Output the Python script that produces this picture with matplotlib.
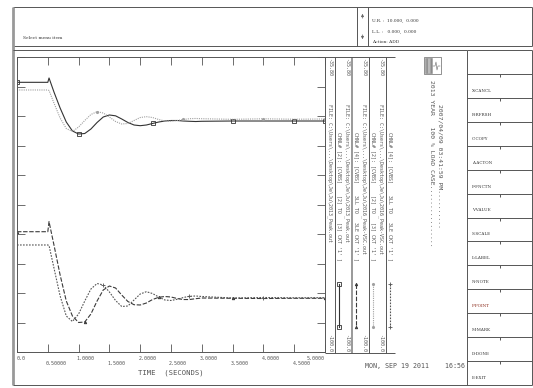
import numpy as np
import matplotlib
matplotlib.use("Agg")
import matplotlib.pyplot as plt

# Channel data (time in seconds, angle values)
time = [0, 0.5, 0.52, 0.6, 0.7, 0.8, 0.9, 1.0, 1.1, 1.2, 1.3, 1.4, 1.5, 1.6, 1.7, 1.8,
        1.9, 2.0, 2.1, 2.2, 2.3, 2.4, 2.5, 2.6, 2.7, 2.8, 2.9, 3.0, 3.5, 4.0, 4.5, 5.0]
ch_2013_a = [-41.31, -41.31, -40.37, -43.42, -46.90, -49.95, -51.90, -52.56, -52.45, -51.47,
             -50.05, -48.86, -48.42, -48.60, -49.29, -50.05, -50.60, -50.75, -50.60, -50.27,
             -49.95, -49.73, -49.62, -49.62, -49.73, -49.79, -49.84, -49.79, -49.73, -49.73,
             -49.73, -49.73]
ch_2013_b = [-73.82, -73.82, -71.64, -76.71, -83.24, -88.90, -92.17, -93.58, -93.47, -91.73,
             -88.90, -86.51, -85.64, -86.07, -87.60, -89.01, -89.71, -89.77, -89.34, -88.58,
             -88.10, -87.92, -88.03, -88.36, -88.58, -88.58, -88.40, -88.25, -88.31, -88.36,
             -88.31, -88.31]
ch_2016_a = [-42.98, -42.98, -43.09, -45.81, -49.08, -51.36, -52.01, -51.03, -49.62, -48.31,
             -47.70, -47.99, -48.86, -49.84, -50.38, -50.27, -49.62, -48.97, -48.79, -48.97,
             -49.40, -49.73, -49.77, -49.62, -49.40, -49.23, -49.18, -49.23, -49.36, -49.25,
             -49.34, -49.29]
ch_2016_b = [-76.71, -76.71, -76.82, -81.72, -87.81, -92.17, -93.36, -91.73, -88.90, -86.29,
             -85.09, -85.42, -86.94, -88.79, -90.10, -89.99, -88.68, -87.38, -86.88, -87.27,
             -88.03, -88.68, -88.79, -88.53, -88.14, -87.88, -87.81, -87.92, -88.25, -88.14,
             -88.21, -88.18]

y_min, y_max = -100.0, -35.80
x_ticks = [0, 0.5, 1.0, 1.5, 2.0, 2.5, 3.0, 3.5, 4.0, 4.5, 5.0]
x_labels = ["0.0", "0.50000", "1.0000", "1.5000", "2.0000", "2.5000",
            "3.0000", "3.5000", "4.0000", "4.5000", "5.0000"]

# legend strips
strip_top = ["-35.80", "-35.80", "-35.80", "-35.80"]
strip_bottom = ["-100.0", "-100.0", "-100.0", "-100.0"]
strip_files = [r"FILE: C:\Users\...\Desktop\Je\Ju\2013_Peak.out",
               r"FILE: C:\Users\...\Desktop\Je\Ju\2013_Peak.out",
               r"FILE: C:\Users\...\Desktop\Je\Ju\2016_Peak-VSC.out",
               r"FILE: C:\Users\...\Desktop\Je\Ju\2016_Peak-VSC.out"]
strip_chnl = ["CHNL# [2]: [CVBS]    [2] TO   [3] CKT '1' ]",
              "CHNL# [4]: [CVBS]    3LL TO   3LE CKT '1' ]",
              "CHNL# [2]: [CVBS]    [2] TO   [3] CKT '1' ]",
              "CHNL# [4]: [CVBS]    3LL TO   3LE CKT '1' ]"]

menu_items = ["X-CANCL", "R-RFRSH", "C-COPY", "A-ACTON", "F-FNCTN", "V-VALUE", "S-SCALE",
              "L-LABEL", "N-NOTE", "P-POINT", "M-MARK", "D-DONE", "E-EXIT"]

case_title = "2013 YEAR   100 % LOAD CASE................"
case_date = "2007/04/09 03:41:59 PM.........."
stamp = "MON, SEP 19 2011    16:56"

# line styles, same order as the strips
series = [ch_2013_a, ch_2013_b, ch_2016_a, ch_2016_b]
styles = [
    dict(color="#333333", lw=0.8, ls="-", marker="s", ms=2.2, mfc="none", mew=0.6),
    dict(color="#3a3a3a", lw=0.8, ls=(0, (4, 1.5)), marker="^", ms=1.8, mew=0.6),
    dict(color="#a0a0a0", lw=0.8, ls=(0, (1, 1)), marker=".", ms=2.5),
    dict(color="#555555", lw=0.8, ls=(0, (1.5, 1.2)), marker="+", ms=2.5, mew=0.6),
]
mark_at = [[0, 7, 19, 28, 30, 31], [0, 8, 20, 28, 31], [10, 24, 29, 31], [11, 25, 29, 31]]

W, H = 533, 388
fig = plt.figure(figsize=(W / 100, H / 100), dpi=100)
fig.patch.set_facecolor("white")
mono = "DejaVu Sans Mono"
ink = "#333333"
soft = "#555555"

# overlay in pixel coordinates for the screen frame
ov = fig.add_axes([0, 0, 1, 1])
ov.set_xlim(0, W)
ov.set_ylim(H, 0)
ov.axis("off")


def line(x0, y0, x1, y1, c="#555555", lw=0.7):
    ov.plot([x0, x1], [y0, y1], color=c, lw=lw, solid_capstyle="butt")


# header box
line(13, 7, 532, 7)
line(13, 46, 532, 46)
line(532, 7, 532, 46)
line(357, 7, 357, 46)
line(368, 7, 368, 46)
ov.annotate("", xy=(362.5, 11), xytext=(362.5, 21),
            arrowprops=dict(arrowstyle="-|>", lw=0.5, color="#666666", mutation_scale=4))
ov.annotate("", xy=(362.5, 42), xytext=(362.5, 32),
            arrowprops=dict(arrowstyle="-|>", lw=0.5, color="#666666", mutation_scale=4))
ov.text(23, 38, "Select menu item", fontsize=3.2, family="DejaVu Serif", color=ink, va="center")
ov.text(372, 20, "U.R. :  10.000,  0.000", fontsize=3.2, family="DejaVu Serif", color=ink, va="center")
ov.text(372, 31, "L.L. :   0.000,  0.000", fontsize=3.2, family="DejaVu Serif", color=ink, va="center")
ov.text(372, 42, "Action: ADD", fontsize=3.2, family="DejaVu Serif", color=ink, va="center")

# main box with gray left border
line(13, 7, 13, 385, c="#999999", lw=2.0)
line(13, 50, 467, 50)
line(13, 385, 532, 385)
line(467, 50, 467, 385)
line(467, 50, 532, 50)
line(532, 50, 532, 385)

# menu column
row_h = (385 - 50) / 14
for i, item in enumerate(menu_items):
    top = 50 + row_h * (i + 1)
    line(467, top, 532, top)
    line(500, top, 500, top + 3)
    ov.text(472, top + row_h - 7, item, fontsize=3.0, family="DejaVu Serif",
            color="#8b2a1a" if item == "P-POINT" else ink, va="center")

# legend strips
for i in range(4):
    x0 = 325 + 17 * i
    line(x0 + 10, 57, x0 + 10, 353, c="#999999" if i == 1 else "#555555", lw=1.4 if i == 1 else 0.7)
    ov.text(x0 + 5, 58, strip_top[i], rotation=-90, fontsize=3.6, family=mono,
            color=soft, ha="center", va="top")
    ov.text(x0 + 5, 104, strip_files[i], rotation=-90, fontsize=3.6, family=mono,
            color=soft, ha="center", va="top")
    ov.text(x0 + 5, 352, strip_bottom[i], rotation=-90, fontsize=3.6, family=mono,
            color=soft, ha="center", va="bottom")
    ov.text(x0 + 14, 132, strip_chnl[i], rotation=-90, fontsize=3.6, family=mono,
            color=soft, ha="center", va="top")
    ov.plot([x0 + 14, x0 + 14], [284, 327], markevery=[0, 1], **styles[i])
line(325, 57, 395, 57)
line(325, 353, 395, 353)

# case description block
ov.add_patch(plt.Rectangle((424, 57), 17, 17, fill=False, ec="#666666", lw=0.5))
ov.add_patch(plt.Rectangle((425, 58), 7, 15, fc="#bbbbbb", ec="#888888", lw=0.4, hatch="||||"))
ov.plot([433, 435, 436, 437, 438, 440], [66, 66, 62, 70, 66, 66], color="#666666", lw=0.4)
ov.text(432, 80, case_title, rotation=-90, fontsize=4.6, family=mono, color=soft,
        ha="center", va="top")
ov.text(440, 104, case_date, rotation=-90, fontsize=4.6, family=mono, color=soft,
        ha="center", va="top")
ov.text(365, 366, stamp, fontsize=4.8, family=mono, color=soft, va="center")

# the plot itself
ax = fig.add_axes([17 / W, 1 - 352 / H, (325 - 17) / W, (352 - 57) / H])
for s, st, me in zip(series, styles, mark_at):
    ax.plot(time, s, markevery=me, **st)
ax.set_xlim(0, 5)
ax.set_ylim(y_min, y_max)
ax.set_xticks(x_ticks)
ax.set_yticks(np.linspace(y_min, y_max, 11))
ax.tick_params(direction="in", length=6, width=0.6, color="#555555", top=True, right=True,
               labelbottom=False, labelleft=False)
for sp in ax.spines.values():
    sp.set_linewidth(0.7)
    sp.set_color("#555555")

# two-row tick labels under the axis
xt = ax.get_xaxis_transform()
for k, (v, lab) in enumerate(zip(x_ticks, x_labels)):
    if k == 0:
        ax.text(v, -0.015, lab, transform=xt, fontsize=3.6, family=mono, color=soft,
                ha="left", va="top")
    elif k == len(x_ticks) - 1:
        ax.text(v, -0.015, lab, transform=xt, fontsize=3.6, family=mono, color=soft,
                ha="right", va="top")
    else:
        ax.text(v - 0.03, -0.015 if k % 2 == 0 else -0.03, lab, transform=xt, fontsize=3.6,
                family=mono, color=soft, ha="left", va="top")
ax.text(0.5, -0.06, "TIME  (SECONDS)", transform=ax.transAxes, fontsize=5.2, family=mono,
        color=soft, ha="center", va="top")

fig.savefig("out.png", dpi=100)
